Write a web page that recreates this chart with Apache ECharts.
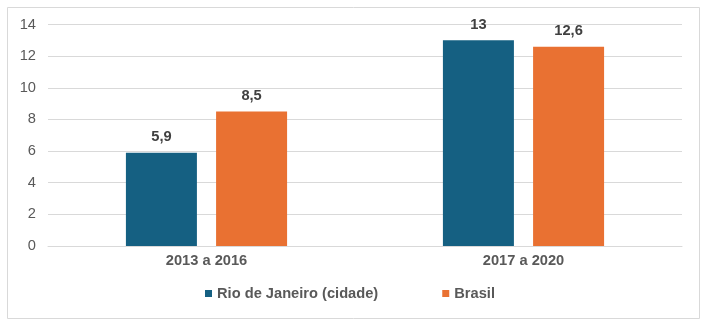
<!DOCTYPE html>
<html>
<head>
<meta charset="utf-8">
<script src="https://cdn.jsdelivr.net/npm/echarts@6/dist/echarts.min.js"></script>
<style>
html,body{margin:0;padding:0;background:#fff;}
#c{width:707px;height:326px;}
</style>
</head>
<body>
<div id="c"></div>
<script>
var categories = ['2013 a 2016', '2017 a 2020'];
var seriesNames = ['Rio de Janeiro (cidade)', 'Brasil'];
var rioValues = [5.9, 13];
var brasilValues = [8.5, 12.6];
var yTicks = [0, 2, 4, 6, 8, 10, 12, 14];

var chart = echarts.init(document.getElementById('c'), null, {renderer: 'canvas'});
var font = '"Liberation Sans", Arial, sans-serif';
var fs = 14.67;
function fmt(p) { return String(p.value).replace('.', ','); }
var labelStyle = {show: true, position: 'top', distance: 8, formatter: fmt,
  fontFamily: font, fontSize: fs, fontWeight: 'bold', color: '#404040'};

chart.setOption({
  animation: false,
  backgroundColor: '#fff',
  graphic: [{type: 'rect', shape: {x: 7.5, y: 7.5, width: 692, height: 311},
    style: {fill: 'none', stroke: '#d9d9d9', lineWidth: 1}, silent: true}],
  grid: {left: 48, right: 25, top: 24.5, bottom: 80, containLabel: false},
  legend: {
    data: seriesNames, left: 200, top: 281, icon: 'rect', itemWidth: 7, itemHeight: 7,
    itemGap: 64,
    textStyle: {fontFamily: font, fontSize: fs, fontWeight: 'bold', color: '#595959'}
  },
  xAxis: {
    type: 'category', data: categories,
    axisLine: {show: true, lineStyle: {color: '#d9d9d9', width: 1}},
    axisTick: {show: false},
    axisLabel: {margin: 7, fontFamily: font, fontSize: fs, fontWeight: 'bold', color: '#595959'}
  },
  yAxis: {
    type: 'value', min: yTicks[0], max: yTicks[yTicks.length - 1], interval: 2,
    axisLine: {show: false}, axisTick: {show: false},
    splitLine: {lineStyle: {color: '#d9d9d9', width: 1}},
    axisLabel: {margin: 12, fontFamily: font, fontSize: fs, color: '#595959',
      padding: [0, 0, 5, 0]}
  },
  series: [
    {name: seriesNames[0], type: 'bar', data: rioValues, barWidth: 71, barGap: '27%',
      itemStyle: {color: '#156082'}, label: labelStyle},
    {name: seriesNames[1], type: 'bar', data: brasilValues, barWidth: 71, barGap: '27%',
      itemStyle: {color: '#E97132'}, label: labelStyle}
  ]
});
</script>
</body>
</html>
